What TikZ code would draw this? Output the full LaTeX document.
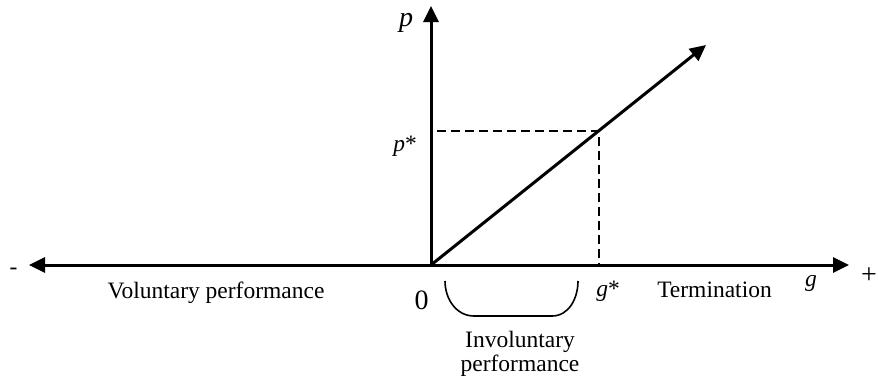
\documentclass[tikz,border=0pt]{standalone}
\usepackage{fontspec}
\setmainfont{Liberation Serif}
\usetikzlibrary{arrows.meta,calc}
\begin{document}
\begin{tikzpicture}[x=1pt,y=-1pt,
  axis/.style={line width=3pt,-{Triangle[length=16pt,width=15pt]}},
  guide/.style={line width=2pt,dash pattern=on 9pt off 5pt},
  lbl/.style={font=\fontsize{23.5}{22}\selectfont,inner sep=0pt,anchor=base},
  big/.style={font=\fontsize{28}{30}\selectfont,inner sep=0pt,anchor=base},
  brace/.style={line width=1.6pt}]
\useasboundingbox (0,0) rectangle (878,381);
\coordinate (O) at (431,265);
\coordinate (L) at (29,265);
\coordinate (R) at (849,265);
\coordinate (P) at (431,6);
\coordinate (D) at (706,45);
\coordinate (S) at ($(O)!0.6095!(D)$);
\coordinate (Sy) at (437,0 |- S);
\coordinate (Sx) at (S |- O);
\draw[axis] (O) -- (L);
\draw[axis] (O) -- (R);
\draw[axis] (O) -- (P);
\draw[axis] (O) -- (D);
\draw[guide] (Sy) -- (S) -- (Sx);
% brace
\coordinate (B1) at (445,281);
\coordinate (B2) at (578,281);
\draw[brace] (B1) to[out=-90,in=180] (474,316) -- (552,316) to[out=0,in=-90] (B2);
% labels
\node[lbl] (minus) at (13.5,274) {-};
\node[big] (plus) at (869,283) {+};
\node[lbl] (glbl) at (811,286) {\textit{g}};
\node[big] (plbl) at (406,26) {\textit{p}};
\node[lbl] (pstar) at (405,151) {\textit{p}*};
\node[big] (zero) at (421.5,309) {0};
\node[lbl] (gstar) at (608,296) {\textit{g}*};
\node[lbl] (term) at (714.5,297) {Termination};
\node[lbl] (vol) at (216,298) {Voluntary performance};
\node[lbl] (invol1) at (520,347) {Involuntary};
\node[lbl] (invol2) at (520,371) {performance};
\end{tikzpicture}
\end{document}
